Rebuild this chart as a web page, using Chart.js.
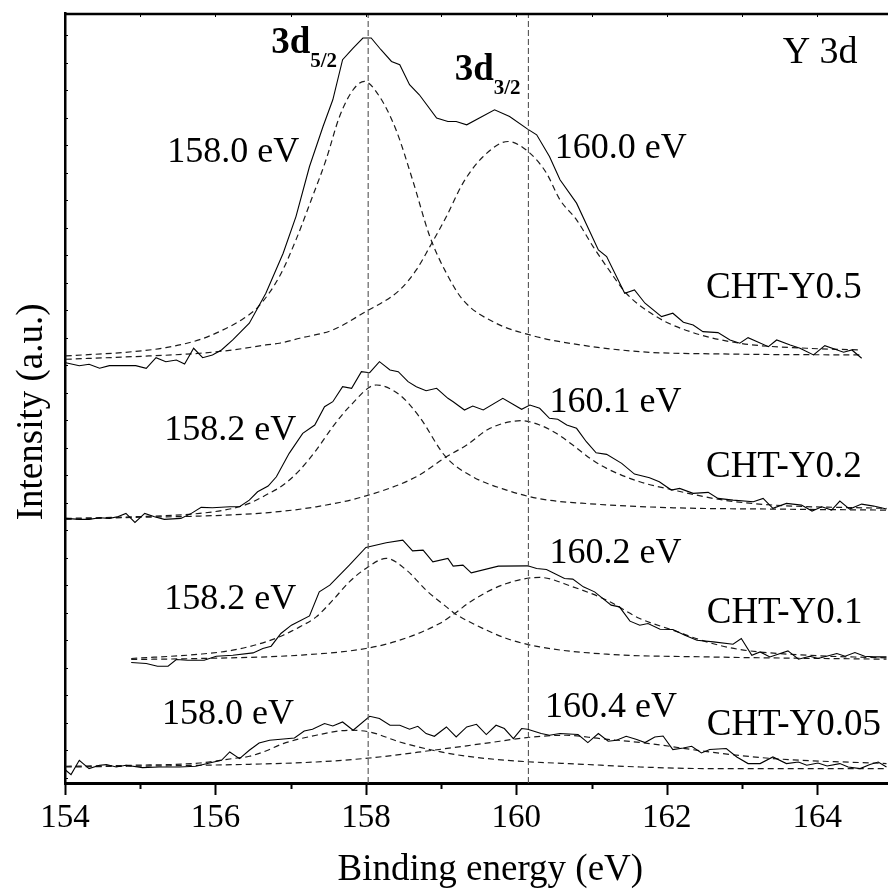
<!DOCTYPE html>
<html>
<head>
<meta charset="utf-8">
<title>Y 3d</title>
<script src="https://cdn.jsdelivr.net/npm/chart.js@4.4.1/dist/chart.umd.min.js"></script>
<style>
  html, body { margin: 0; padding: 0; background: #fff; }
  #wrap { width: 888px; height: 892px; }
</style>
</head>
<body>
<div id="wrap"><canvas id="chartY3d"></canvas></div>
<script>
// binding energy (eV) / intensity (a.u., stacked)

// CHT-Y0.5
const e05 = [154.01,154.19,154.32,154.46,154.59,154.94,155.08,155.21,155.34,155.48,155.59,155.71,155.83,155.96,156.08,156.23,156.45,156.67,156.90,157.07,157.25,157.43,157.56,157.69,157.83,157.96,158.07,158.20,158.34,158.45,158.58,158.71,158.94,159.09,159.20,159.34,159.71,159.91,160.15,160.27,160.44,160.58,160.80,161.09,161.20,161.44,161.57,161.71,161.93,162.08,162.22,162.35,162.48,162.68,162.84,162.97,163.08,163.35,163.46,163.64,163.77,163.95,164.10,164.35,164.46,164.59];
const i05 = [420.0,417.0,418.4,414.4,417.0,417.0,414.4,425.0,421.0,422.7,418.7,434.4,425.0,427.7,432.7,442.7,459.4,489.4,529.4,566.0,616.0,656.0,682.7,722.7,734.4,744.4,744.4,732.7,721.0,717.7,697.7,687.7,664.4,661.0,661.0,657.7,672.7,666.0,653.4,647.7,626.0,602.7,579.4,532.7,526.0,489.4,492.7,479.4,466.0,469.4,460.4,457.7,451.0,450.0,442.7,439.4,445.0,436.0,442.7,437.7,434.4,427.7,437.0,430.4,432.7,424.4];
const f05aE = [154.01,154.90,155.34,155.79,156.08,156.35,156.57,156.85,157.07,157.29,157.47,157.65,157.83,157.98,158.18,158.40,158.62,158.85,159.07,159.29,159.73,160.18,160.58,161.64,162.75,164.59];
const f05aI = [426.7,431.0,435.0,443.0,452.0,463.0,476.0,506.0,542.7,586.0,622.7,666.0,692.7,701.0,686.0,652.7,602.7,546.0,509.4,482.7,459.4,447.7,441.0,431.0,428.7,427.7];
const f05bE = [154.01,154.90,155.79,156.23,156.67,156.85,157.12,157.56,157.96,158.45,158.67,158.85,159.07,159.29,159.56,159.89,160.18,160.40,160.58,160.80,161.02,161.20,161.46,161.86,162.31,162.97,163.86,164.59];
const f05bI = [423.4,426.0,429.4,432.7,437.7,439.4,444.4,452.7,469.4,492.7,512.7,536.0,566.0,599.4,626.0,641.0,629.4,609.4,582.7,562.7,536.0,516.0,489.4,466.0,451.0,439.4,434.4,432.7];

// CHT-Y0.2
const e02 = [154.01,154.19,154.32,154.46,154.59,154.70,154.81,154.93,155.06,155.19,155.32,155.54,155.68,155.81,155.96,156.19,156.32,156.45,156.56,156.70,156.81,156.98,157.16,157.32,157.45,157.56,157.69,157.81,157.94,158.05,158.18,158.32,158.43,158.56,158.67,158.80,158.94,159.09,159.16,159.31,159.42,159.56,159.82,160.07,160.18,160.31,160.44,160.55,160.67,160.80,160.93,161.06,161.20,161.40,161.57,161.77,161.90,162.06,162.17,162.35,162.55,162.68,162.88,163.15,163.28,163.41,163.59,163.79,163.93,164.06,164.19,164.30,164.43,164.59,164.75,164.92];
const i02 = [264.4,263.4,263.4,265.0,264.4,266.0,269.4,260.4,269.4,266.0,263.4,264.4,269.4,275.4,275.0,276.0,276.0,282.7,291.0,296.7,306.0,329.4,349.4,357.7,376.0,381.0,396.0,394.4,411.0,410.0,421.0,412.7,411.0,401.0,396.0,392.0,394.4,384.4,381.0,372.7,376.7,372.7,384.4,373.4,377.7,374.4,364.4,363.4,357.7,354.4,341.0,330.0,328.4,319.4,308.7,305.0,301.0,292.7,294.4,289.4,290.4,284.4,282.7,281.0,284.4,274.4,279.4,277.7,271.7,276.0,272.7,281.7,273.7,278.7,276.7,273.7];
const f02aE = [154.01,154.90,155.79,156.23,156.45,156.67,156.90,157.12,157.34,157.56,157.78,158.14,158.45,158.71,159.06,159.42,159.87,160.31,160.98,162.09,163.42,164.92];
const f02aI = [264.4,266.0,269.4,274.4,279.4,287.7,297.7,312.7,332.7,356.0,376.0,397.7,387.7,366.0,326.0,306.0,292.7,284.0,279.0,275.0,273.7,272.7];
const f02bE = [154.01,154.90,155.79,156.67,157.34,157.96,158.67,159.07,159.34,159.65,160.07,160.31,160.53,160.75,160.98,161.20,161.64,162.09,162.75,163.42,164.92];
const f02bI = [263.4,265.4,266.7,270.0,276.0,286.0,306.0,326.0,337.7,354.4,362.0,357.7,349.4,337.7,324.4,314.4,301.0,292.7,282.7,277.7,274.4];

// CHT-Y0.1
const e01 = [154.88,155.08,155.23,155.37,155.48,155.63,155.85,156.01,156.23,156.50,156.63,156.74,156.87,157.01,157.25,157.38,157.52,157.78,158.00,158.27,158.49,158.62,158.76,158.89,159.09,159.16,159.29,159.40,159.76,160.15,160.27,160.40,160.64,160.75,160.89,161.04,161.26,161.37,161.51,161.64,161.75,161.91,162.08,162.24,162.40,162.62,162.88,162.99,163.13,163.24,163.37,163.61,163.75,163.90,164.01,164.26,164.37,164.50,164.63,164.75,164.92];
const i01 = [120.4,119.4,116.7,116.7,123.4,122.7,122.7,126.7,127.7,130.0,134.4,136.7,149.4,157.7,167.0,191.0,197.7,217.7,235.4,240.0,242.7,232.0,232.7,221.0,224.4,216.7,217.7,210.0,216.7,217.0,214.4,213.4,204.4,203.7,196.0,191.0,177.7,176.0,161.7,157.7,159.4,153.7,153.4,147.7,142.7,141.0,138.7,144.4,127.7,131.0,126.0,132.0,123.7,126.7,124.4,129.4,126.7,130.4,126.7,126.0,126.0];
const f01aE = [154.88,155.79,156.23,156.67,156.90,157.12,157.34,157.56,157.78,158.00,158.27,158.54,158.80,159.07,159.18,159.42,159.87,160.31,161.20,162.53,164.92];
const f01aI = [124.4,128.7,132.7,141.0,147.7,156.0,166.0,182.7,201.0,214.4,224.4,212.7,192.7,176.0,169.4,159.4,144.4,136.0,128.7,126.0,123.7];
const f01bE = [154.88,155.79,157.12,158.00,158.45,158.98,159.18,159.42,159.87,160.31,160.75,161.20,161.64,162.08,162.53,162.97,163.86,164.92];
const f01bI = [123.4,124.4,127.7,134.4,142.7,159.4,169.4,182.7,199.4,205.4,196.0,182.7,164.4,152.7,141.0,133.4,127.7,125.0];

// CHT-Y0.05
const e005 = [154.01,154.08,154.19,154.32,154.46,154.55,154.68,154.81,155.03,155.25,155.52,155.74,155.92,156.08,156.19,156.32,156.45,156.58,156.72,157.05,157.18,157.29,157.45,157.56,157.69,157.83,158.05,158.18,158.32,158.45,158.58,158.69,158.80,158.91,159.07,159.20,159.34,159.47,159.60,159.73,159.84,159.96,160.07,160.15,160.33,160.44,160.58,160.82,160.95,161.09,161.22,161.33,161.46,161.60,161.71,161.84,161.95,162.08,162.22,162.33,162.46,162.57,162.79,162.93,163.08,163.24,163.41,163.59,163.75,163.86,164.01,164.13,164.30,164.41,164.57,164.70,164.81,164.92];
const i005 = [12.7,8.4,22.7,14.4,17.7,18.4,16.0,17.7,15.4,16.0,16.0,16.7,20.0,22.7,31.0,24.4,32.7,40.0,42.7,45.0,52.0,53.7,59.4,57.0,61.0,52.7,66.7,64.4,57.7,57.7,53.7,56.7,49.4,46.7,56.0,46.0,56.0,58.7,48.4,57.7,54.4,44.4,54.4,53.7,49.4,47.7,49.4,48.4,40.4,49.4,41.7,42.7,46.7,43.4,40.4,46.0,47.0,33.4,35.0,36.7,30.0,33.4,34.4,26.0,19.4,19.4,26.0,19.4,21.0,17.7,20.0,17.0,19.4,16.0,14.4,18.4,21.0,16.0];
const f005aE = [154.01,154.90,155.79,156.23,156.45,156.67,156.90,157.34,157.78,158.05,158.45,158.89,159.34,160.00,160.89,161.64,162.57,164.92];
const f005aI = [16.7,17.7,20.0,24.4,26.7,32.0,39.4,47.7,52.7,51.0,41.0,32.7,26.7,22.0,18.7,16.0,14.4,14.4];
const f005bE = [154.01,155.79,156.45,157.34,158.05,158.89,159.56,160.22,160.66,161.11,161.77,162.57,163.41,164.92];
const f005bI = [16.0,17.7,18.7,21.0,25.0,32.7,39.4,46.0,47.7,44.4,39.4,31.0,24.4,19.4];

// reference lines at the 3d5/2 and 3d3/2 positions
const refLines = [158.03, 160.16];

// text on the plot
const peakText = ['158.0 eV','160.0 eV','158.2 eV','160.1 eV','158.2 eV','160.2 eV','158.0 eV','160.4 eV'];
const peakX = [155.36,160.51,155.32,160.44,155.32,160.44,155.29,160.38];
const peakY = [620.7,624.7,342.7,370.7,173.7,219.7,58.7,65.7];
const sampleNames = ['CHT-Y0.5','CHT-Y0.2','CHT-Y0.1','CHT-Y0.05'];
const sampleX = [162.52,162.52,162.53,162.53];
const sampleY = [484.7,305.7,159.7,47.7];
const orbitalSub = ['5/2','3/2'];
const orbitalX = [156.74,159.18];
const orbitalY = [729.7,702.7];

const xMin = 154, xMax = 164.94, yMax = 769.4;
const serif = '"Liberation Serif", "Times New Roman", serif';

const pts = (es, is) => es.map((e, k) => ({x: e, y: is[k]}));

function rawSet(es, is) {
    return {data: pts(es, is), showLine: true, borderColor: '#000', borderWidth: 1.1, pointRadius: 0, tension: 0};
}
function fitSet(es, is) {
    return {data: pts(es, is), showLine: true, borderColor: '#1a1a1a', borderWidth: 1.2, borderDash: [6, 4], pointRadius: 0, cubicInterpolationMode: 'monotone'};
}

const datasets = refLines.map(v => ({
    data: [{x: v, y: 0}, {x: v, y: yMax}],
    showLine: true, borderColor: '#555', borderWidth: 1.1, borderDash: [6, 3], pointRadius: 0
}));
datasets.push(
    rawSet(e05, i05), fitSet(f05aE, f05aI), fitSet(f05bE, f05bI),
    rawSet(e02, i02), fitSet(f02aE, f02aI), fitSet(f02bE, f02bI),
    rawSet(e01, i01), fitSet(f01aE, f01aI), fitSet(f01bE, f01bI),
    rawSet(e005, i005), fitSet(f005aE, f005aI), fitSet(f005bE, f005bI)
);

// ticks inside the frame, top spine and the text labels
const decorations = {
    id: 'decorations',
    afterDatasetsDraw(chart) {
        const {ctx, scales: {x, y}} = chart;
        ctx.save();
        ctx.fillStyle = '#000';
        ctx.textAlign = 'left';
        ctx.textBaseline = 'alphabetic';
        ctx.font = '36px ' + serif;
        peakText.forEach((t, k) => ctx.fillText(t, x.getPixelForValue(peakX[k]), y.getPixelForValue(peakY[k])));
        ctx.font = '37px ' + serif;
        sampleNames.forEach((t, k) => ctx.fillText(t, x.getPixelForValue(sampleX[k]), y.getPixelForValue(sampleY[k])));
        ctx.font = '38px ' + serif;
        ctx.fillText('Y 3d', x.getPixelForValue(163.54), y.getPixelForValue(719.7));
        orbitalSub.forEach((s, k) => {
            const px = x.getPixelForValue(orbitalX[k]);
            const py = y.getPixelForValue(orbitalY[k]);
            ctx.font = 'bold 37px ' + serif;
            ctx.fillText('3d', px, py);
            const w = ctx.measureText('3d').width;
            ctx.font = 'bold 21px ' + serif;
            ctx.fillText(s, px + w, py + 14);
        });
        ctx.restore();
    },
    afterDraw(chart) {
        const {ctx, chartArea: a, scales: {x}} = chart;
        ctx.save();
        ctx.strokeStyle = '#000';
        ctx.lineWidth = 2.5;
        ctx.beginPath();
        ctx.moveTo(a.left - 1, a.top + 1);
        ctx.lineTo(a.right, a.top + 1);
        ctx.stroke();
        x.ticks.forEach(t => {
            if (!Number.isInteger(t.value)) return;
            const px = Math.round(x.getPixelForValue(t.value)) + 0.5;
            ctx.lineWidth = 2;
            ctx.beginPath();
            ctx.moveTo(px, a.bottom);
            ctx.lineTo(px, a.bottom + (t.value % 2 === 0 ? 12 : 6));
            ctx.stroke();
            ctx.lineWidth = 1;
            ctx.beginPath();
            ctx.moveTo(px, a.top + 1);
            ctx.lineTo(px, a.top + 4);
            ctx.stroke();
        });
        ctx.lineWidth = 1;
        for (let py = a.top + 22; py < a.bottom; py += 27.5) {
            ctx.beginPath();
            ctx.moveTo(a.left, Math.round(py) + 0.5);
            ctx.lineTo(a.left + 3, Math.round(py) + 0.5);
            ctx.stroke();
        }
        ctx.restore();
    }
};

new Chart(document.getElementById('chartY3d'), {
    type: 'scatter',
    data: {datasets: datasets},
    options: {
        responsive: true,
        maintainAspectRatio: false,
        animation: false,
        layout: {padding: {top: 13, left: 0, right: 0, bottom: 0}},
        plugins: {legend: {display: false}, tooltip: {enabled: false}},
        scales: {
            x: {
                type: 'linear',
                position: 'bottom',
                min: xMin,
                max: xMax,
                afterFit: (s) => { s.height = 109; },
                ticks: {
                    stepSize: 1,
                    includeBounds: false,
                    autoSkip: false,
                    maxRotation: 0,
                    color: '#000',
                    padding: 5,
                    font: {family: serif, size: 33},
                    callback: (v) => (v % 2 === 0 ? String(v) : '')
                },
                grid: {display: true, drawOnChartArea: false, drawTicks: true, tickLength: 11, color: 'rgba(0,0,0,0)'},
                border: {display: true, color: '#000', width: 3},
                // the source axis ran a little past the cropped edge, so the label sits right of centre
                title: {display: true, text: '   Binding energy (eV)', color: '#000', font: {family: serif, size: 37}, padding: {top: 4, bottom: 0}}
            },
            y: {
                type: 'linear',
                position: 'left',
                min: 0,
                max: yMax,
                afterFit: (s) => { s.width = 65; },
                ticks: {display: false},
                grid: {display: false},
                border: {display: true, color: '#000', width: 2.5},
                title: {display: true, text: 'Intensity (a.u.)   ', color: '#000', font: {family: serif, size: 37}, padding: {top: 10, bottom: 0}}
            }
        }
    },
    plugins: [decorations]
});
</script>
</body>
</html>
